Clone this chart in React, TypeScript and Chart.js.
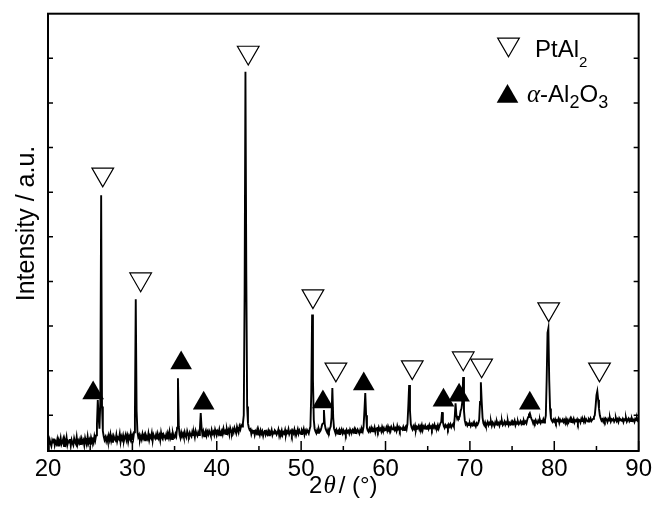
import { useEffect, useRef } from "react";
import { Chart, registerables } from "chart.js";

Chart.register(...registerables);

// Diffraction pattern: intensity sampled every 0.1° from 2θ = 20.0° to 90.0°
const startAngle = 20;
const stepAngle = 0.1;
const intensity: number[] = [
  0.22,0.14,0.25,0.17,0.11,0.24,0.19,0.28,0.13,0.21,
  0.16,0.26,0.12,0.23,0.18,0.29,0.15,0.20,0.27,0.11,
  0.24,0.17,0.30,0.14,0.22,0.19,0.27,0.12,0.25,0.18,
  0.13,0.28,0.20,0.16,0.31,0.15,0.23,0.18,0.26,0.14,
  0.27,0.19,0.24,0.13,0.29,0.21,0.16,0.32,0.18,0.25,
  0.17,0.30,0.22,0.26,0.19,0.33,0.24,0.35,0.60,1.14,
  0.75,0.50,1.10,5.73,1.00,0.45,0.33,0.25,0.31,0.22,
  0.30,0.21,0.34,0.25,0.37,0.23,0.31,0.19,0.33,0.27,
  0.24,0.36,0.22,0.30,0.27,0.38,0.20,0.32,0.26,0.35,
  0.23,0.31,0.37,0.25,0.34,0.21,0.33,0.28,0.39,0.26,
  0.34,0.27,0.42,0.80,3.40,0.90,0.42,0.31,0.36,0.25,
  0.33,0.26,0.38,0.29,0.35,0.24,0.36,0.31,0.27,0.39,
  0.25,0.34,0.30,0.40,0.23,0.37,0.32,0.28,0.36,0.26,
  0.38,0.29,0.35,0.24,0.41,0.31,0.27,0.37,0.33,0.28,
  0.36,0.26,0.39,0.31,0.43,0.29,0.35,0.27,0.40,0.32,
  0.30,0.38,0.33,0.52,1.63,0.55,0.36,0.29,0.41,0.33,
  0.39,0.31,0.42,0.34,0.30,0.44,0.37,0.33,0.41,0.35,
  0.32,0.43,0.36,0.40,0.31,0.45,0.38,0.34,0.42,0.36,
  0.50,0.85,0.52,0.37,0.44,0.33,0.41,0.46,0.35,0.43,
  0.37,0.45,0.40,0.34,0.47,0.39,0.43,0.36,0.48,0.41,
  0.36,0.44,0.39,0.48,0.35,0.42,0.46,0.38,0.50,0.41,
  0.45,0.38,0.49,0.41,0.47,0.37,0.51,0.44,0.40,0.48,
  0.42,0.52,0.46,0.40,0.54,0.47,0.43,0.55,0.49,0.58,
  0.55,0.62,0.80,3.50,8.50,4.00,1.00,0.62,0.52,0.47,
  0.49,0.38,0.45,0.41,0.47,0.36,0.44,0.40,0.48,0.37,
  0.43,0.36,0.46,0.39,0.44,0.34,0.42,0.47,0.37,0.43,
  0.38,0.45,0.35,0.43,0.40,0.47,0.36,0.42,0.39,0.46,
  0.44,0.37,0.41,0.48,0.35,0.43,0.39,0.46,0.36,0.42,
  0.39,0.47,0.36,0.44,0.41,0.49,0.38,0.43,0.46,0.37,
  0.45,0.40,0.48,0.37,0.44,0.42,0.49,0.39,0.46,0.41,
  0.38,0.46,0.42,0.49,0.37,0.45,0.40,0.47,0.43,0.39,
  0.48,0.55,1.30,3.06,1.60,0.70,0.50,0.44,0.40,0.47,
  0.41,0.49,0.43,0.46,0.52,0.60,0.62,0.92,0.60,0.50,
  0.45,0.41,0.48,0.43,0.50,0.55,0.75,1.41,0.75,0.50,
  0.44,0.39,0.47,0.41,0.45,0.38,0.46,0.42,0.48,0.40,
  0.46,0.40,0.44,0.38,0.47,0.42,0.45,0.39,0.48,0.43,
  0.41,0.47,0.43,0.49,0.40,0.46,0.42,0.48,0.44,0.39,
  0.47,0.42,0.49,0.44,0.55,0.90,1.30,0.80,0.52,0.46,
  0.43,0.50,0.45,0.52,0.44,0.49,0.46,0.53,0.42,0.50,
  0.51,0.45,0.53,0.47,0.50,0.44,0.54,0.48,0.52,0.46,
  0.47,0.53,0.46,0.55,0.49,0.52,0.45,0.54,0.50,0.48,
  0.53,0.47,0.51,0.45,0.56,0.49,0.53,0.46,0.52,0.50,
  0.48,0.54,0.47,0.52,0.55,0.49,0.60,1.00,1.48,0.90,
  0.60,0.52,0.48,0.55,0.50,0.57,0.46,0.54,0.51,0.56,
  0.49,0.56,0.51,0.58,0.47,0.55,0.52,0.57,0.50,0.54,
  0.56,0.50,0.58,0.52,0.55,0.49,0.57,0.53,0.59,0.51,
  0.55,0.52,0.58,0.50,0.56,0.62,0.65,0.87,0.65,0.56,
  0.52,0.58,0.54,0.57,0.51,0.59,0.55,0.60,0.53,0.57,
  0.60,0.55,0.75,1.07,0.80,0.72,0.76,0.74,0.78,0.90,
  0.95,1.10,1.66,0.90,0.68,0.60,0.63,0.57,0.61,0.58,
  0.62,0.56,0.61,0.58,0.63,0.57,0.60,0.55,0.62,0.59,
  0.63,0.70,1.10,1.54,1.10,0.75,0.62,0.58,0.64,0.57,
  0.60,0.65,0.58,0.63,0.59,0.66,0.57,0.64,0.61,0.56,
  0.64,0.59,0.66,0.60,0.63,0.57,0.65,0.61,0.67,0.58,
  0.61,0.66,0.59,0.64,0.60,0.67,0.58,0.63,0.60,0.65,
  0.59,0.65,0.62,0.68,0.58,0.64,0.61,0.66,0.60,0.63,
  0.67,0.61,0.65,0.60,0.68,0.63,0.66,0.62,0.70,0.76,
  0.82,0.85,0.78,0.72,0.68,0.62,0.67,0.63,0.69,0.64,
  0.62,0.68,0.64,0.70,0.63,0.67,0.65,0.71,0.64,0.69,
  0.80,1.60,2.65,2.75,1.60,0.95,0.74,0.68,0.65,0.70,
  0.66,0.71,0.64,0.69,0.67,0.72,0.63,0.70,0.66,0.68,
  0.71,0.65,0.69,0.63,0.72,0.66,0.70,0.64,0.68,0.73,
  0.65,0.70,0.66,0.72,0.64,0.69,0.67,0.71,0.63,0.70,
  0.69,0.64,0.72,0.67,0.70,0.65,0.73,0.66,0.71,0.68,
  0.66,0.71,0.68,0.73,0.67,0.70,0.72,0.76,0.80,1.00,
  1.25,1.34,1.15,0.95,0.80,0.73,0.68,0.71,0.66,0.72,
  0.67,0.73,0.70,0.65,0.72,0.68,0.74,0.66,0.71,0.69,
  0.72,0.66,0.70,0.74,0.67,0.71,0.65,0.73,0.69,0.70,
  0.68,0.72,0.65,0.71,0.69,0.74,0.66,0.70,0.73,0.67,
  0.71,0.67,0.73,0.68,0.70,0.65,0.72,0.69,0.74,0.68,
  0.70,
];

// Phase markers (2θ, marker height)
const ptAl2Angle = [26.49, 30.98, 43.73, 51.4, 54.12, 63.17, 69.21, 71.39, 79.34, 85.36];
const ptAl2Level = [6.2, 3.85, 8.93, 3.47, 1.83, 1.88, 2.08, 1.92, 3.18, 1.83];
const aluminaAngle = [25.35, 35.78, 38.45, 52.58, 57.42, 66.87, 68.72, 77.1];
const aluminaLevel = [1.3, 1.97, 1.07, 1.1, 1.5, 1.14, 1.25, 1.07];

const xMajorTicks = [20, 30, 40, 50, 60, 70, 80, 90];
const xMinorTicks = [25, 35, 45, 55, 65, 75, 85];
const yTicks = [0.8, 1.8, 2.8, 3.8, 4.8, 5.8, 6.8, 7.8, 8.8];

const SANS = "'Liberation Sans', Arial, Helvetica, sans-serif";
const SERIF = "'Liberation Serif', 'Times New Roman', serif";

type Run = { text: string; font: string; dy?: number };

function drawRuns(ctx: CanvasRenderingContext2D, x: number, y: number, runs: Run[]) {
  let cx = x;
  for (const r of runs) {
    ctx.font = r.font;
    ctx.fillText(r.text, cx, y + (r.dy || 0));
    cx += ctx.measureText(r.text).width;
  }
}
function runsWidth(ctx: CanvasRenderingContext2D, runs: Run[]) {
  let w = 0;
  for (const r of runs) {
    ctx.font = r.font;
    w += ctx.measureText(r.text).width;
  }
  return w;
}

function triangle(ctx: CanvasRenderingContext2D, cx: number, cy: number, r: number, down: boolean, filled: boolean) {
  const s = down ? -1 : 1;
  const h = (Math.sqrt(3) / 2) * r;
  ctx.beginPath();
  ctx.moveTo(cx, cy - s * r);
  ctx.lineTo(cx + h, cy + s * r / 2);
  ctx.lineTo(cx - h, cy + s * r / 2);
  ctx.closePath();
  if (filled) {
    ctx.fillStyle = "#000";
    ctx.fill();
  } else {
    ctx.fillStyle = "#fff";
    ctx.fill();
    ctx.lineWidth = 1.2;
    ctx.strokeStyle = "#000";
    ctx.stroke();
  }
}

const framePlugin = {
  id: "frame",
  afterDraw(chart: any) {
    const { ctx, chartArea, scales } = chart;
    const { left, right, top, bottom } = chartArea;
    const x = scales.x;
    const y = scales.y;
    ctx.save();
    ctx.strokeStyle = "#000";
    ctx.lineWidth = 2;
    ctx.strokeRect(left, top, right - left, bottom - top);
    ctx.lineWidth = 1.5;
    ctx.beginPath();
    for (const v of xMajorTicks) {
      const px = x.getPixelForValue(v);
      ctx.moveTo(px, bottom);
      ctx.lineTo(px, bottom - 10);
    }
    for (const v of xMinorTicks) {
      const px = x.getPixelForValue(v);
      ctx.moveTo(px, bottom);
      ctx.lineTo(px, bottom - 5);
    }
    for (const v of yTicks) {
      const py = y.getPixelForValue(v);
      ctx.moveTo(left, py);
      ctx.lineTo(left + 5, py);
      ctx.moveTo(right, py);
      ctx.lineTo(right - 5, py);
    }
    ctx.stroke();

    ctx.fillStyle = "#000";
    ctx.textAlign = "left";
    ctx.textBaseline = "alphabetic";

    // x title
    const xt: Run[] = [
      { text: "2", font: `24px ${SANS}` },
      { text: "θ", font: `italic 25px ${SERIF}` },
      { text: "/ (°)", font: `24px ${SANS}` },
    ];
    const w = runsWidth(ctx, xt) + 4;
    const x0 = (left + right) / 2 - w / 2;
    ctx.font = `24px ${SANS}`;
    const w2 = ctx.measureText("2").width;
    drawRuns(ctx, x0, 493, [xt[0]]);
    ctx.font = xt[1].font;
    const wt = ctx.measureText("θ").width;
    drawRuns(ctx, x0 + w2 + 1, 493, [xt[1]]);
    drawRuns(ctx, x0 + w2 + wt + 4, 493, [xt[2]]);

    // y title
    ctx.save();
    ctx.translate(33.5, 223.5);
    ctx.rotate(-Math.PI / 2);
    ctx.font = `25px ${SANS}`;
    ctx.textAlign = "center";
    ctx.fillText("Intensity / a.u.", 0, 0);
    ctx.restore();

    // legend
    ctx.textAlign = "left";
    triangle(ctx, 508.5, 44.3, 12.5, true, false);
    triangle(ctx, 507.5, 96.5, 12.5, false, true);
    ctx.fillStyle = "#000";
    drawRuns(ctx, 535, 57, [
      { text: "PtAl", font: `24px ${SANS}` },
      { text: "2", font: `15px ${SANS}`, dy: 10 },
    ]);
    drawRuns(ctx, 527, 102, [
      { text: "α", font: `italic 25px ${SERIF}` },
      { text: "-Al", font: `24px ${SANS}` },
      { text: "2", font: `18px ${SANS}`, dy: 6 },
      { text: "O", font: `24px ${SANS}` },
      { text: "3", font: `18px ${SANS}`, dy: 6 },
    ]);
    ctx.restore();
  },
};

export default function App() {
  const ref = useRef<HTMLCanvasElement>(null);
  useEffect(() => {
    const pattern = intensity.map((v, i) => ({ x: +(startAngle + i * stepAngle).toFixed(1), y: v }));
    const ptAl2 = ptAl2Angle.map((a, i) => ({ x: a, y: ptAl2Level[i] }));
    const alumina = aluminaAngle.map((a, i) => ({ x: a, y: aluminaLevel[i] }));
    const chart = new Chart(ref.current!, {
      type: "scatter",
      data: {
        datasets: [
          {
            label: "PtAl2",
            data: ptAl2,
            pointStyle: "triangle",
            rotation: 180,
            pointRadius: 12.5,
            backgroundColor: "#fff",
            borderColor: "#000",
            borderWidth: 1.2,
          } as any,
          {
            label: "α-Al2O3",
            data: alumina,
            pointStyle: "triangle",
            pointRadius: 12.5,
            backgroundColor: "#000",
            borderColor: "#000",
            borderWidth: 0,
          } as any,
          {
            label: "pattern",
            data: pattern,
            showLine: true,
            pointRadius: 0,
            borderColor: "#000",
            borderWidth: 1.9,
            tension: 0,
          } as any,
        ],
      },
      options: {
        animation: false,
        responsive: false,
        layout: { padding: { left: 48, right: 15, top: 13, bottom: 0 } },
        plugins: { legend: { display: false }, tooltip: { enabled: false } },
        scales: {
          x: {
            type: "linear",
            min: 20,
            max: 90,
            afterFit: (s: any) => {
              s.height = 63;
            },
            afterBuildTicks: (s: any) => {
              s.ticks = xMajorTicks.map((v) => ({ value: v }));
            },
            grid: { display: false, drawTicks: false },
            border: { display: false },
            ticks: {
              color: "#000",
              padding: 4,
              maxRotation: 0,
              autoSkip: false,
              font: { family: SANS, size: 24 },
            },
          },
          y: {
            type: "linear",
            min: 0,
            max: 9.8,
            display: false,
          },
        },
      },
      plugins: [framePlugin],
    });
    return () => chart.destroy();
  }, []);
  return (
    <div style={{ position: "fixed", left: 0, top: 0, width: 656, height: 514, background: "#fff" }}>
      <canvas ref={ref} width={656} height={514} style={{ display: "block", width: 656, height: 514 }} />
    </div>
  );
}
